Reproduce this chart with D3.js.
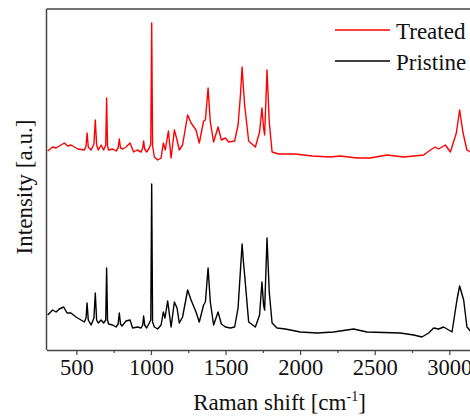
<!DOCTYPE html>
<html>
<head>
<meta charset="utf-8">
<script src="https://cdn.jsdelivr.net/npm/d3@7"></script>
<style>
  html, body { margin: 0; padding: 0; background: #fff; overflow: hidden; }
  svg { display: block; }
</style>
</head>
<body>
<svg id="chart" width="470" height="416"></svg>
<script>
// Raman shift (cm^-1) and intensity (a.u.)
const treatedShift = [308,341,364,386,420,442,464,487,509,554,565,572,580,599,618,627,636,647,666,683,697,703,709,716,743,766,780,788,796,810,833,860,884,907,934,945,951,958,971,989,999,1005,1011,1023,1045,1068,1083,1096,1117,1135,1157,1175,1190,1212,1246,1269,1302,1324,1353,1365,1383,1398,1420,1450,1472,1499,1521,1561,1584,1600,1611,1620,1628,1655,1700,1728,1744,1755,1762,1778,1793,1812,1856,1968,2080,2202,2269,2381,2470,2582,2694,2828,2873,2906,2928,2973,3007,3047,3069,3092,3118,3141,3200];
const treatedIntensity = [199,203,202,204,207,204,205,203,201,200,204,217,203,200,206,230,205,200,205,200,205,252,204,200,201,199,202,211,202,201,203,207,198,200,198,202,209,201,198,202,206,327,204,193,190,192,207,200,219,192,220,210,200,205,235,227,220,207,229,230,262,228,208,223,210,212,208,209,225,255,283,262,245,209,203,218,242,222,215,280,228,198,196,196,194,193,194,192,192,195,193,195,200,203,201,205,198,217,240,217,200,198,197];

const pristineShift = [308,341,364,386,415,438,464,498,531,554,565,572,580,599,618,627,636,647,666,683,697,703,709,716,743,766,780,788,796,806,833,860,877,911,934,945,951,958,971,989,999,1005,1011,1023,1045,1068,1083,1094,1112,1135,1157,1175,1190,1212,1246,1269,1302,1324,1353,1365,1383,1398,1420,1450,1472,1499,1532,1561,1584,1600,1611,1620,1628,1655,1700,1728,1744,1755,1762,1778,1793,1812,1845,1901,2001,2113,2224,2358,2448,2671,2761,2817,2861,2895,2928,2962,3018,3051,3069,3096,3118,3141,3200];
const pristineIntensity = [35,40,38,41,43,37,37,33,30,28,32,47,30,25,32,57,30,27,30,27,30,82,30,26,25,23,26,37,26,24,29,30,22,23,22,25,34,25,22,27,30,166,28,23,21,25,38,32,49,23,48,42,27,33,60,50,38,28,45,48,82,48,25,38,26,23,22,23,42,80,106,88,75,28,23,35,68,45,40,112,58,27,22,21,18,17,18,21,18,17,15,13,17,22,21,23,18,50,64,50,23,19,18];

const seriesNames = ["Treated", "Pristine"];
const seriesColors = ["#ff0000", "#000000"];
const majorTicks = [500, 1000, 1500, 2000, 2500, 3000];
const minorTicks = [750, 1250, 1750, 2250, 2750, 3250];

(function () {
  const FONT = "'Times New Roman', Times, 'Liberation Serif', 'Nimbus Roman', 'Nimbus Roman No9 L', FreeSerif, 'Noto Serif', 'DejaVu Serif', serif";
  const svg = d3.select("#chart");
  const mLeft = 46.5, mTop = 9, mBottom = 350;
  const x = d3.scaleLinear().domain([300, 3200]).range([mLeft, mLeft + 2900 * 0.1492]);
  const y = d3.scaleLinear().domain([0, 341]).range([mBottom, mTop]);

  const axisColor = "#444";

  // minor ticks
  svg.append("g")
    .attr("transform", `translate(0,${mBottom})`)
    .call(d3.axisBottom(x).tickValues(minorTicks).tickSize(3).tickFormat(""))
    .call(g => g.select(".domain").remove())
    .call(g => g.selectAll("line").attr("stroke", axisColor).attr("stroke-width", 1.2));

  // major ticks + labels
  svg.append("g")
    .attr("transform", `translate(0,${mBottom})`)
    .call(d3.axisBottom(x).tickValues(majorTicks).tickSize(5).tickSizeOuter(0).tickPadding(4).tickFormat(d3.format("d")))
    .attr("font-family", FONT)
    .attr("font-size", 22.5)
    .call(g => g.select(".domain").attr("stroke", axisColor).attr("stroke-width", 1.5))
    .call(g => g.selectAll("line").attr("stroke", axisColor).attr("stroke-width", 1.2))
    .call(g => g.selectAll("text").attr("fill", "#111"));

  // left axis line and top frame
  svg.append("line").attr("x1", mLeft).attr("x2", mLeft).attr("y1", mTop).attr("y2", mBottom)
    .attr("stroke", axisColor).attr("stroke-width", 1.5);
  svg.append("line").attr("x1", mLeft).attr("x2", 470).attr("y1", mTop).attr("y2", mTop)
    .attr("stroke", axisColor).attr("stroke-width", 1.5);

  const line = d3.line().x(d => x(d[0])).y(d => y(d[1]));
  const treated = d3.zip(treatedShift, treatedIntensity);
  const pristine = d3.zip(pristineShift, pristineIntensity);

  svg.append("path").datum(pristine).attr("d", line)
    .attr("fill", "none").attr("stroke", seriesColors[1]).attr("stroke-width", 1.4).attr("stroke-linejoin", "round");
  svg.append("path").datum(treated).attr("d", line)
    .attr("fill", "none").attr("stroke", seriesColors[0]).attr("stroke-width", 1.4).attr("stroke-linejoin", "round");

  // legend
  const legY = [30, 61];
  seriesNames.forEach((name, i) => {
    svg.append("line").attr("x1", 335).attr("x2", 390).attr("y1", legY[i]).attr("y2", legY[i])
      .attr("stroke", seriesColors[i]).attr("stroke-width", 1.3);
    svg.append("text").attr("x", 396).attr("y", legY[i] + 8.5).attr("font-size", 23)
      .attr("font-family", FONT).attr("fill", "#111").text(name);
  });

  // axis titles
  const xt = svg.append("text").attr("x", 279.5).attr("y", 410).attr("text-anchor", "middle")
    .attr("font-size", 23).attr("font-family", FONT).attr("fill", "#111");
  xt.append("tspan").text("Raman shift [cm");
  xt.append("tspan").attr("font-size", 14).attr("dy", -9).text("-1");
  xt.append("tspan").attr("dy", 9).text("]");

  svg.append("text").attr("transform", "translate(32,187) rotate(-90)")
    .attr("text-anchor", "middle").attr("font-size", 23).attr("font-family", FONT)
    .attr("fill", "#111").text("Intensity [a.u.]");
})();
</script>
</body>
</html>
